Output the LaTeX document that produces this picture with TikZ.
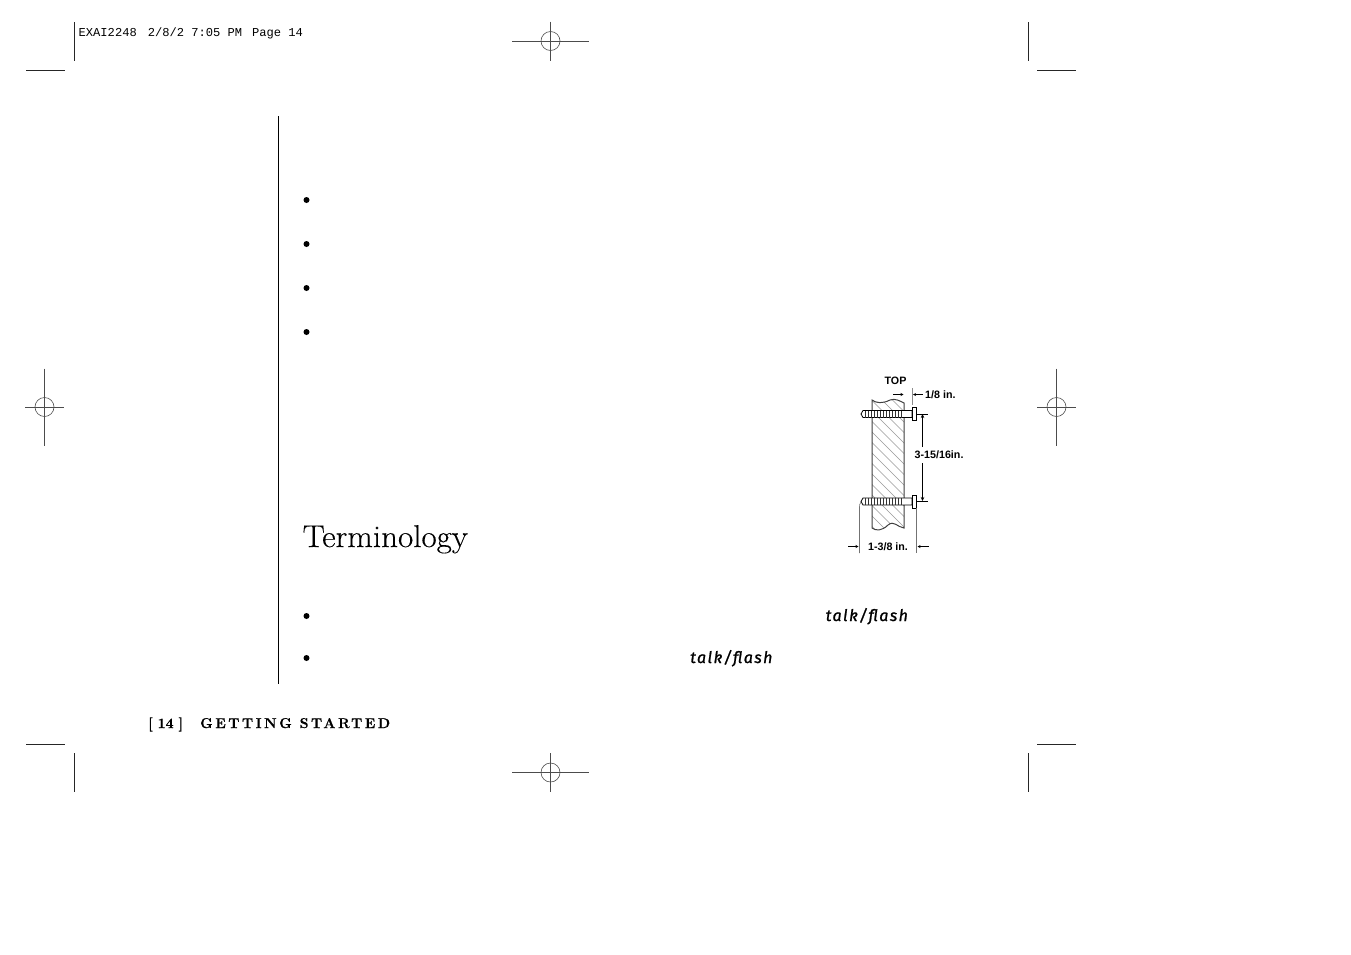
\documentclass[tikz,border=0pt]{standalone}
\usepackage{fontspec}
\setmainfont{Latin Modern Roman}
\newfontfamily\armfont{Liberation Sans}
\newfontfamily\typefont{Liberation Mono}
\newfontfamily\talkfont[LetterSpace=9,FakeBold=1.2]{Fira Sans}
\newfontfamily\termfont[FakeStretch=1.05,FakeBold=0.25]{Latin Modern Roman}
\newfontfamily\footfont[FakeBold=0.7]{Latin Modern Roman/B}
\newfontfamily\footspaced[FakeBold=0.7,LetterSpace=18]{Latin Modern Roman/B}
\usetikzlibrary{arrows.meta}
\tikzset{
  mark line/.style={line width=0.9pt,black!85},
  reg line/.style={line width=0.6pt,black!70},
  dim line/.style={line width=0.6pt,black},
  lbl/.style={inner sep=0pt,anchor=center,font=\armfont\bfseries\fontsize{10.7}{10.7}\selectfont},
  bullet dot/.style={circle,fill=black,inner sep=0pt,minimum size=6pt},
  talk/.style={inner sep=0pt,anchor=base west,font=\talkfont\itshape\fontsize{16}{16}\selectfont},
  plain/.style={inner sep=0pt}
}
\newcommand{\regmark}[4]{% x y halfh halfw
  \draw[reg line] (#1-#4,#2) -- (#1+#4,#2);
  \draw[reg line] (#1,#2-#3) -- (#1,#2+#3);
  \draw[reg line] (#1,#2) circle (9.5);
}
\begin{document}
\begin{tikzpicture}[x=1pt,y=-1pt]
\useasboundingbox (0,0) rectangle (1351,954);
\fill[white] (0,0) rectangle (1351,954);
% crop marks
\draw[mark line] (74.5,22) -- (74.5,61);
\draw[mark line] (26,70.5) -- (65,70.5);
\draw[mark line] (1028.5,22) -- (1028.5,61);
\draw[mark line] (1037,70.5) -- (1076,70.5);
\draw[mark line] (26,744.5) -- (65,744.5);
\draw[mark line] (74.5,753) -- (74.5,792);
\draw[mark line] (1037,744.5) -- (1076,744.5);
\draw[mark line] (1028.5,753) -- (1028.5,792);
% registration marks
\regmark{550.5}{41}{19.5}{38.5}
\regmark{550.5}{772.5}{19.5}{38.5}
\regmark{44.5}{407}{38.5}{19.5}
\regmark{1056.5}{407}{38.5}{19.5}
% slug
\node[plain,anchor=base west,font=\typefont\fontsize{12.1}{12.1}\selectfont] (slug) at (78.5,36) {EXAI2248\hspace{11pt}2/8/2 7:05 PM\hspace{10pt}Page 14};
% margin rule
\draw[line width=1pt,black] (278.5,116) -- (278.5,684);
% bullets
\node[bullet dot] (b1) at (306.5,200) {};
\node[bullet dot] (b2) at (306.5,244) {};
\node[bullet dot] (b3) at (306.5,288) {};
\node[bullet dot] (b4) at (306.5,332) {};
\node[bullet dot] (b5) at (306.5,616) {};
\node[bullet dot] (b6) at (306.5,658) {};
% heading
\node[plain,anchor=base west,font=\termfont\fontsize{31.5}{32}\selectfont] (term) at (302.5,547) {Terminology};
\node[talk] (t1) at (825.5,621) {talk/f{}lash};
\node[talk] (t2) at (690,663) {talk/f{}lash};
% footer
\node[plain,anchor=base west,font=\bfseries\fontsize{14.2}{15}\selectfont\addfontfeature{FakeBold=0.7}] (foot1) at (148,728) {[\hspace{5pt}14\hspace{5pt}]};
\node[plain,anchor=base west,font=\bfseries\fontsize{14.2}{15}\selectfont\addfontfeature{FakeBold=0.7,LetterSpace=18}] (foot2) at (200,728) {GETTING STARTED};
% stud wall
\begin{scope}
  \clip (872,400) .. controls (876,403) and (882,404) .. (890,400) .. controls (895,398) and (900,401) .. (904,403) -- (904,528) .. controls (897,527) and (894,520) .. (888,525) .. controls (882,531) and (876,531) .. (872,528) -- cycle;
  \foreach \k in {-14,...,4}{
    \draw[line width=0.5pt,black!40] (872+\k*10.5,390) -- (872+\k*10.5+150,540);
  }
\end{scope}
\draw[line width=1pt,black!75] (904,403) .. controls (900,401) and (895,398) .. (890,400) .. controls (882,404) and (876,403) .. (872,400) -- (872,528) .. controls (876,531) and (882,531) .. (888,525) .. controls (894,520) and (897,527) .. (904,528) -- cycle;
% screws
\foreach \yy in {414,501.5}{
  \fill[white] (862,\yy-3.5) rectangle (912,\yy+3.5);
  \draw[line width=0.8pt,black] (863,\yy-3.5) -- (912,\yy-3.5) -- (912,\yy+3.5) -- (863,\yy+3.5) -- (861,\yy) -- cycle;
  \foreach \k in {0,...,12}{
    \draw[line width=0.6pt,black!80] (865+\k*3,\yy-3.5) -- (865+\k*3,\yy+3.5);
  }
  \draw[line width=0.9pt,black,fill=white] (912.5,\yy-6.5) rectangle (916.5,\yy+6.5);
}
% dimension lines
\draw[line width=0.6pt,black!45] (912,388) -- (912,405);
\coordinate (ta) at (903.5,394.5);
\coordinate (tb) at (913,394.5);
\draw[dim line,-{Stealth[length=3pt,width=3pt]}] (893,394.5) -- (ta);
\draw[dim line,-{Stealth[length=3pt,width=3pt]}] (922.5,394.5) -- (tb);
\draw[dim line] (916.5,414) -- (928,414);
\draw[dim line] (916.5,501.5) -- (928,501.5);
\coordinate (va) at (922.5,414);
\coordinate (vb) at (922.5,501);
\draw[dim line,-{Stealth[length=4pt,width=3.5pt]}] (922.5,447) -- (va);
\draw[dim line,-{Stealth[length=4pt,width=3.5pt]}] (922.5,463) -- (vb);
\draw[line width=0.6pt,black!55] (861,502) .. controls (859.5,504) .. (859.5,510) -- (859.5,553);
\draw[line width=0.6pt,black!55] (916.5,508) -- (916.5,553);
\coordinate (ha) at (858.5,546.5);
\coordinate (hb) at (917.5,546.5);
\draw[dim line,-{Stealth[length=3pt,width=3pt]}] (848,546.5) -- (ha);
\draw[dim line,-{Stealth[length=3pt,width=3pt]}] (928.5,546.5) -- (hb);
% labels
\node[lbl] (top) at (895.5,380.5) {TOP};
\node[lbl,anchor=west] (l1) at (925,394.5) {1/8 in.};
\node[lbl,anchor=west] (l2) at (914.5,454.5) {3-15/16in.};
\node[lbl] (l3) at (888,546.5) {1-3/8 in.};
\end{tikzpicture}
\end{document}
